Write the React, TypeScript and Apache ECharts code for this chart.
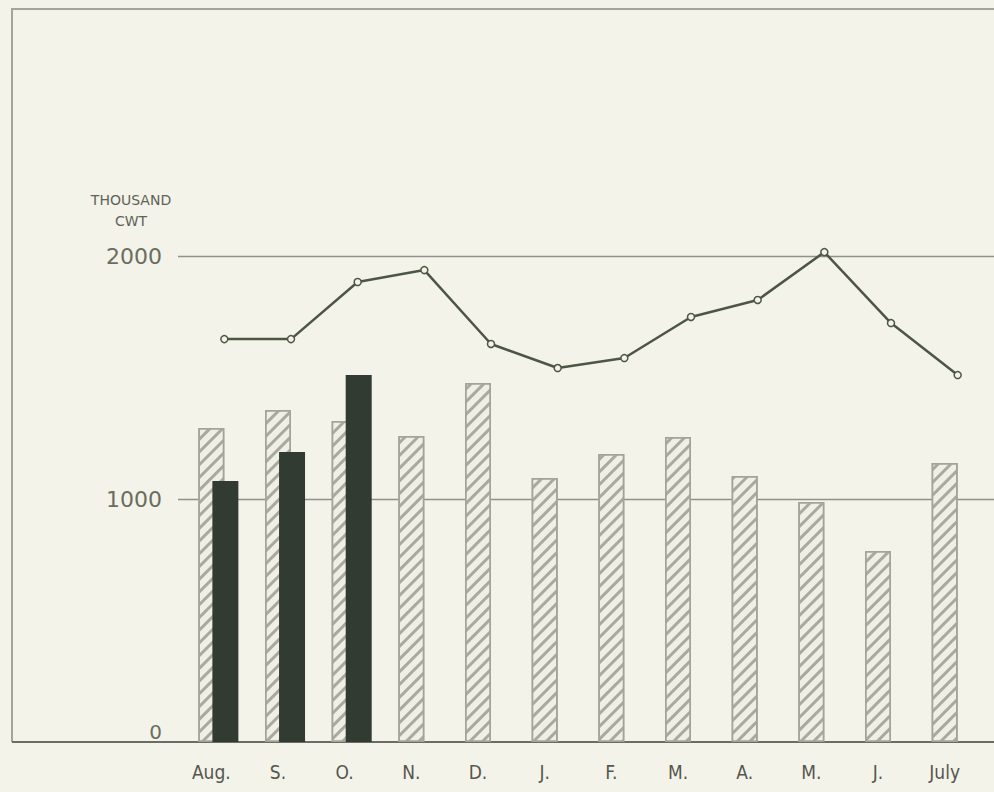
import { useEffect, useRef } from 'react';
import * as echarts from 'echarts';

const months = ['Aug.', 'S.', 'O.', 'N.', 'D.', 'J.', 'F.', 'M.', 'A.', 'M.', 'J.', 'July'];
const hatchedValues = [1292, 1366, 1321, 1259, 1477, 1086, 1185, 1255, 1095, 988, 786, 1148];
const darkValues: (number | null)[] = [1074, 1193, 1510, null, null, null, null, null, null, null, null, null];
const lineValues = [1658, 1658, 1893, 1942, 1638, 1539, 1580, 1749, 1819, 2016, 1724, 1510];
const spacerValues: (number | null)[] = months.map(() => null);
const yMin = 0;
const yMax = 3000;
const yInterval = 1000;
const unitLines = ['THOUSAND', 'CWT'];

const BG = '#f3f3e9';
const FONT = "'Liberation Sans Narrow', 'DejaVu Sans Condensed', 'Liberation Sans', sans-serif";

export default function App() {
  const ref = useRef<HTMLDivElement>(null);
  useEffect(() => {
    if (!ref.current) return;
    const chart = echarts.init(ref.current, null, { renderer: 'svg' });
    const option: any = {
      animation: false,
      backgroundColor: BG,
      grid: [
        { left: 178, right: 16, top: 13, bottom: 50 },
        { left: 178, right: 0, top: 13, bottom: 50 },
        { left: 191, right: 3, top: 13, bottom: 50 },
      ],
      xAxis: [
        {
          type: 'category',
          gridIndex: 0,
          data: months,
          axisLine: { show: false },
          axisTick: { show: false },
          axisLabel: { color: '#55574f', fontSize: 19, fontFamily: FONT, margin: 20, interval: 0 },
        },
        { type: 'value', gridIndex: 1, min: 0, max: 1, show: false },
        { type: 'category', gridIndex: 2, data: months, show: false },
      ],
      yAxis: [
        { type: 'value', gridIndex: 0, min: yMin, max: yMax, interval: yInterval, show: false },
        {
          type: 'value',
          gridIndex: 1,
          min: yMin,
          max: yMax,
          interval: yInterval,
          axisLine: { show: false },
          axisTick: { show: false },
          axisLabel: {
            showMaxLabel: false,
            color: '#6a6e60',
            fontSize: 22,
            fontFamily: "'DejaVu Sans', sans-serif",
            margin: 16,
            formatter: (v: number) => (v === 0 ? '{z|0}' : String(v)),
            rich: { z: { padding: [0, 0, 20, 0], fontSize: 20, color: '#6a6e60', fontFamily: "'DejaVu Sans', sans-serif" } },
          },
          splitLine: { show: true, showMinLine: false, showMaxLine: false, lineStyle: { color: '#8f918a', width: 1.3 } },
        },
        { type: 'value', gridIndex: 2, min: yMin, max: yMax, show: false },
      ],
      series: [
        {
          type: 'bar',
          xAxisIndex: 0,
          yAxisIndex: 0,
          data: spacerValues,
          barWidth: 26,
          barGap: '-46%',
          silent: true,
        },
        {
          type: 'bar',
          name: 'hatched',
          xAxisIndex: 0,
          yAxisIndex: 0,
          data: hatchedValues,
          barWidth: 26,
          barGap: '-46%',
          itemStyle: {
            color: '#f0efe5',
            borderColor: '#a3a498',
            borderWidth: 1.5,
            decal: {
              symbol: 'rect',
              symbolSize: 1,
              color: '#a9aa9f',
              dashArrayX: [1, 0],
              dashArrayY: [2.5, 6],
              rotation: -Math.PI / 4,
            },
          },
        },
        {
          type: 'bar',
          name: 'dark',
          xAxisIndex: 0,
          yAxisIndex: 0,
          data: darkValues,
          barWidth: 26,
          barGap: '-46%',
          itemStyle: { color: '#323b31' },
        },
        {
          type: 'line',
          xAxisIndex: 2,
          yAxisIndex: 2,
          data: lineValues,
          symbol: 'circle',
          symbolSize: 7,
          lineStyle: { color: '#4d5545', width: 2.5 },
          itemStyle: { color: BG, borderColor: '#4d5545', borderWidth: 1.5 },
          z: 5,
        },
      ],
      graphic: [
        {
          type: 'polyline',
          shape: { points: [[994, 9], [12, 9], [12, 742]] },
          style: { stroke: '#a3a59b', lineWidth: 2, fill: null },
          silent: true,
        },
        {
          type: 'line',
          shape: { x1: 12, y1: 742, x2: 994, y2: 742 },
          style: { stroke: '#6b6d64', lineWidth: 2 },
          silent: true,
        },
        {
          type: 'text',
          x: 131,
          y: 189,
          style: {
            text: unitLines.join('\n'),
            fill: '#5f6258',
            font: "14px 'DejaVu Sans', sans-serif",
            textAlign: 'center',
            lineHeight: 21,
          },
        },
      ],
    };
    chart.setOption(option);
    return () => chart.dispose();
  }, []);
  return <div ref={ref} style={{ position: 'fixed', left: 0, top: 0, width: 994, height: 792 }} />;
}
